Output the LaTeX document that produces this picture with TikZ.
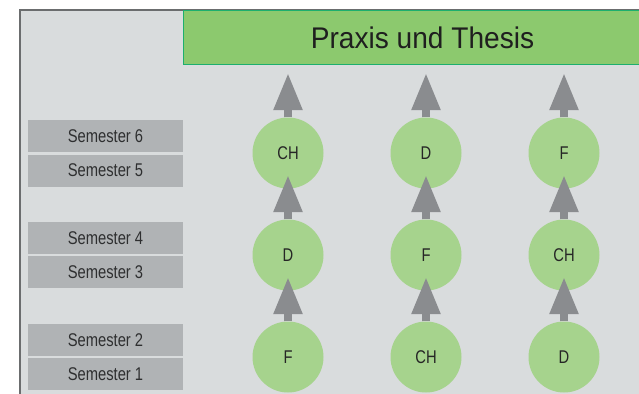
\documentclass[tikz,border=0pt]{standalone}
\usepackage{fontspec}
\setmainfont{Liberation Sans}
\newfontfamily\smallfont[FakeStretch=0.8]{Liberation Sans}
\newfontfamily\titlefont[FakeStretch=0.94]{Liberation Sans}
\usetikzlibrary{arrows.meta}
\definecolor{panelbg}{HTML}{D9DCDD}
\definecolor{panelline}{HTML}{6B6D6E}
\definecolor{titlefill}{HTML}{8CC96E}
\definecolor{titleline}{HTML}{1DAF6E}
\definecolor{semfill}{HTML}{B0B3B5}
\definecolor{semtext}{HTML}{2E2F30}
\definecolor{circfill}{HTML}{A6D38D}
\definecolor{arrowgray}{HTML}{8A8C8F}
\tikzset{
  sembox/.style={fill=semfill, minimum width=155bp, minimum height=32bp, inner sep=0pt,
    text=semtext, font=\smallfont\fontsize{18.5}{20}\selectfont},
  course/.style={circle, fill=circfill, minimum size=71bp, inner sep=0pt,
    text=black!85, font=\smallfont\fontsize{18.5}{20}\selectfont},
  uparrow/.style={draw=arrowgray, line width=8bp, -{Triangle[length=37bp,width=27bp]}},
}
\begin{document}
\begin{tikzpicture}[x=1bp,y=-1bp]
\useasboundingbox (0,0) rectangle (639,393);
\clip (0,0) rectangle (639,393);
% panel
\draw[fill=panelbg, draw=panelline, line width=2bp] (20,10) rectangle (700,450);
% title
\node[fill=titlefill, draw=titleline, line width=1.2bp, minimum width=520bp, minimum height=54bp,
  inner sep=0pt, anchor=north west] (title) at (183,10) {};
\node[font=\titlefont\fontsize{30}{32}\selectfont, text=black!88] (titletext) at (422.5,38) {Praxis und Thesis};
% semester boxes
\node[sembox] (s6) at (105.5,136) {Semester 6};
\node[sembox] (s5) at (105.5,170.5) {Semester 5};
\node[sembox] (s4) at (105.5,238) {Semester 4};
\node[sembox] (s3) at (105.5,272) {Semester 3};
\node[sembox] (s2) at (105.5,340) {Semester 2};
\node[sembox] (s1) at (105.5,374) {Semester 1};
% circles
\node[course] (a3) at (288,153) {CH};
\node[course] (b3) at (426,153) {D};
\node[course] (c3) at (564,153) {F};
\node[course] (a2) at (288,255) {D};
\node[course] (b2) at (426,255) {F};
\node[course] (c2) at (564,255) {CH};
\node[course] (a1) at (288,357) {F};
\node[course] (b1) at (426,357) {CH};
\node[course] (c1) at (564,357) {D};
% arrow tips
\foreach \col/\x in {a/288,b/426,c/564}{
  \coordinate (\col t3) at (\x,73);
  \coordinate (\col t2) at (\x,175);
  \coordinate (\col t1) at (\x,277);
}
\foreach \col in {a,b,c}{
  \foreach \r in {1,2,3}{
    \draw[uparrow] (\col\r.north) -- (\col t\r);
  }
}
\end{tikzpicture}
\end{document}
